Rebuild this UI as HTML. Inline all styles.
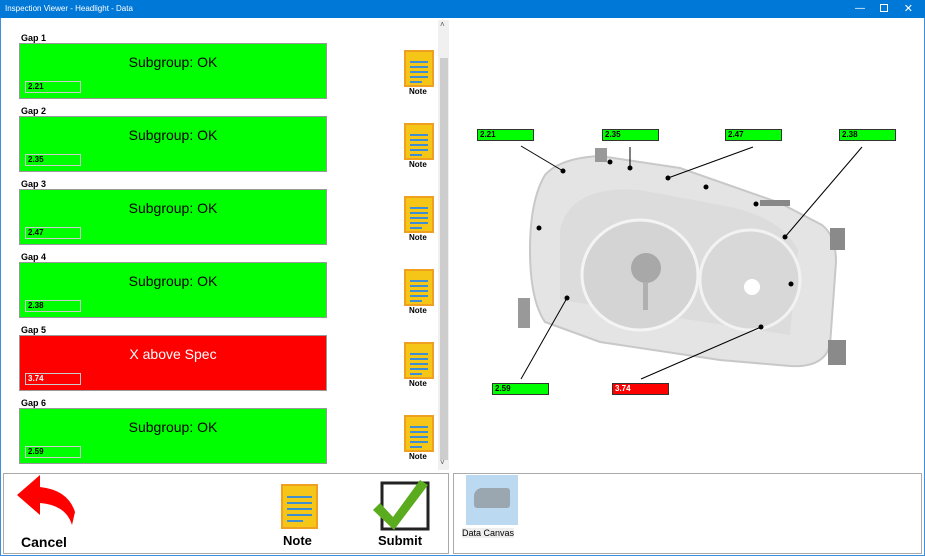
<!DOCTYPE html>
<html><head><style>
*{margin:0;padding:0;box-sizing:border-box}
body{width:925px;height:556px;overflow:hidden;background:#fff;font-family:"Liberation Sans",sans-serif;position:relative}
.abs{position:absolute}
.title{left:0;top:0;width:925px;height:18px;background:#0078d7;color:#fff;font-size:8px;line-height:18px;padding-left:5px}
.frame{left:0;top:18px;width:925px;height:538px;border:1px solid #3c8fdc;border-top:none}
.gl{font-size:9px;font-weight:bold;left:21px}
.gb{left:19px;width:308px;height:56px;background:#00ff00;border:1px solid #999;font-size:14px;text-align:center;padding-top:10px}
.gb.red{background:#ff0000;color:#fff}
.vb{position:absolute;left:5px;top:37px;width:56px;height:12px;border:1px solid #ccc;font-size:8px;font-weight:bold;text-align:left;padding-left:2px;line-height:10px;color:#000}
.red .vb{color:#fff}
.note{left:404px;width:30px;height:37px;background:#f5c518;border:2px solid #f0a020}
.note i{position:absolute;left:4px;height:2px;background:#3f8fd0}
.nl{left:409px;font-size:8px;font-weight:bold}
.lab{width:57px;height:12px;background:#00ff00;border:1px solid #333;font-size:8px;font-weight:bold;line-height:10px;padding-left:2px}
</style></head><body>
<div class="abs title">Inspection Viewer - Headlight - Data</div>
<div class="abs" style="right:60px;top:0;color:#fff;font-size:10px;line-height:18px">—</div>
<div class="abs" style="right:37px;top:4px;width:8px;height:8px;border:1px solid #fff"></div>
<div class="abs" style="right:12px;top:0;color:#fff;font-size:11px;line-height:18px">✕</div>
<div class="abs frame"></div>
<div class="abs" style="left:438px;top:20px;width:11px;height:450px;background:#f0f0f0"></div>
<div class="abs" style="left:440px;top:58px;width:8px;height:402px;background:#cdcdcd"></div>
<div class="abs" style="left:440px;top:20px;font-size:8px;color:#555">˄</div>
<div class="abs" style="left:440px;top:458px;font-size:8px;color:#555">˅</div>

<div class="abs gl" style="top:33px">Gap 1</div>
<div class="abs gb" style="top:43px">Subgroup: OK<div class="vb">2.21</div></div>
<div class="abs gl" style="top:106px">Gap 2</div>
<div class="abs gb" style="top:116px">Subgroup: OK<div class="vb">2.35</div></div>
<div class="abs gl" style="top:179px">Gap 3</div>
<div class="abs gb" style="top:189px">Subgroup: OK<div class="vb">2.47</div></div>
<div class="abs gl" style="top:252px">Gap 4</div>
<div class="abs gb" style="top:262px">Subgroup: OK<div class="vb">2.38</div></div>
<div class="abs gl" style="top:325px">Gap 5</div>
<div class="abs gb red" style="top:335px">X above Spec<div class="vb">3.74</div></div>
<div class="abs gl" style="top:398px">Gap 6</div>
<div class="abs gb" style="top:408px">Subgroup: OK<div class="vb">2.59</div></div>

<div class="abs note" style="top:50px"><i style="top:9px;width:18px"></i><i style="top:14px;width:18px"></i><i style="top:19px;width:18px"></i><i style="top:24px;width:18px"></i><i style="top:29px;width:12px"></i></div><div class="abs nl" style="top:87px">Note</div>
<div class="abs note" style="top:123px"><i style="top:9px;width:18px"></i><i style="top:14px;width:18px"></i><i style="top:19px;width:18px"></i><i style="top:24px;width:18px"></i><i style="top:29px;width:12px"></i></div><div class="abs nl" style="top:160px">Note</div>
<div class="abs note" style="top:196px"><i style="top:9px;width:18px"></i><i style="top:14px;width:18px"></i><i style="top:19px;width:18px"></i><i style="top:24px;width:18px"></i><i style="top:29px;width:12px"></i></div><div class="abs nl" style="top:233px">Note</div>
<div class="abs note" style="top:269px"><i style="top:9px;width:18px"></i><i style="top:14px;width:18px"></i><i style="top:19px;width:18px"></i><i style="top:24px;width:18px"></i><i style="top:29px;width:12px"></i></div><div class="abs nl" style="top:306px">Note</div>
<div class="abs note" style="top:342px"><i style="top:9px;width:18px"></i><i style="top:14px;width:18px"></i><i style="top:19px;width:18px"></i><i style="top:24px;width:18px"></i><i style="top:29px;width:12px"></i></div><div class="abs nl" style="top:379px">Note</div>
<div class="abs note" style="top:415px"><i style="top:9px;width:18px"></i><i style="top:14px;width:18px"></i><i style="top:19px;width:18px"></i><i style="top:24px;width:18px"></i><i style="top:29px;width:12px"></i></div><div class="abs nl" style="top:452px">Note</div>

<svg class="abs" style="left:0;top:0" width="925" height="556">
<path d="M545,175 Q560,158 600,156 L680,168 L780,203 L822,225 Q836,236 836,262 L830,345 Q824,368 790,366 L720,360 L600,342 L545,322 Q530,300 530,250 Q530,200 545,175 Z" fill="#e4e4e4" stroke="#c8c8c8" stroke-width="2"/>
<path d="M560,300 L790,335 L798,250 Q780,215 720,205 L640,190 Q570,185 560,230 Z" fill="#dcdcdc"/>
<ellipse cx="640" cy="275" rx="58" ry="55" fill="#d4d4d4" stroke="#f4f4f4" stroke-width="3"/>
<circle cx="750" cy="280" r="50" fill="#d8d8d8" stroke="#f2f2f2" stroke-width="3"/>
<circle cx="646" cy="268" r="15" fill="#a8a8a8"/>
<rect x="643" y="282" width="5" height="28" fill="#b0b0b0"/>
<circle cx="752" cy="287" r="8" fill="#fff"/>
<rect x="518" y="298" width="12" height="30" fill="#999"/>
<rect x="828" y="340" width="18" height="25" fill="#8a8a8a"/>
<rect x="830" y="228" width="15" height="22" fill="#8a8a8a"/>
<rect x="595" y="148" width="12" height="14" fill="#999"/>
<rect x="760" y="200" width="30" height="6" fill="#888"/>
<g stroke="#000" stroke-width="1">
<line x1="521" y1="146" x2="563" y2="171"/><line x1="630" y1="147" x2="630" y2="168"/>
<line x1="753" y1="147" x2="668" y2="178"/><line x1="862" y1="147" x2="785" y2="237"/>
<line x1="521" y1="379" x2="567" y2="298"/><line x1="641" y1="379" x2="761" y2="327"/>
</g>
<g fill="#000">
<circle cx="563" cy="171" r="2.5"/><circle cx="610" cy="162" r="2.5"/><circle cx="630" cy="168" r="2.5"/><circle cx="668" cy="178" r="2.5"/><circle cx="706" cy="187" r="2.5"/><circle cx="756" cy="204" r="2.5"/><circle cx="785" cy="237" r="2.5"/><circle cx="791" cy="284" r="2.5"/><circle cx="539" cy="228" r="2.5"/><circle cx="567" cy="298" r="2.5"/><circle cx="761" cy="327" r="2.5"/>
</g>
<path d="M72,525 Q66,505 40,503 L40,515 L17,495 L40,475 L40,487 Q68,490 75,512 Z" fill="#ff0000"/>
<rect x="382" y="483" width="46" height="46" fill="none" stroke="#222" stroke-width="3"/>
<path d="M373,510 L380,503 L393,517 L420,480 L428,485 L394,530 Z" fill="#5aab1e"/>
</svg>
<div class="abs lab" style="left:477px;top:129px">2.21</div>
<div class="abs lab" style="left:602px;top:129px">2.35</div>
<div class="abs lab" style="left:725px;top:129px">2.47</div>
<div class="abs lab" style="left:839px;top:129px">2.38</div>
<div class="abs lab" style="left:492px;top:383px">2.59</div>
<div class="abs lab" style="left:612px;top:383px;background:#ff0000;color:#fff">3.74</div>

<div class="abs" style="left:3px;top:473px;width:446px;height:81px;border:1px solid #aaa"></div>
<div class="abs" style="left:453px;top:473px;width:469px;height:81px;border:1px solid #aaa"></div>
<div class="abs" style="left:21px;top:534px;font-size:14px;font-weight:bold">Cancel</div>
<div class="abs note" style="left:281px;top:484px;width:37px;height:45px"><i style="top:10px;width:25px"></i><i style="top:16px;width:25px"></i><i style="top:22px;width:25px"></i><i style="top:28px;width:25px"></i><i style="top:34px;width:16px"></i></div>
<div class="abs" style="left:283px;top:533px;font-size:13px;font-weight:bold">Note</div>
<div class="abs" style="left:378px;top:533px;font-size:13px;font-weight:bold">Submit</div>
<div class="abs" style="left:466px;top:475px;width:52px;height:50px;background:#bcd9f2"></div>
<div class="abs" style="left:474px;top:488px;width:36px;height:20px;background:#9aa6b0;border-radius:8px 3px 3px 3px"></div>
<div class="abs" style="left:462px;top:528px;font-size:9px;background:#eee">Data Canvas</div>
</body></html>
